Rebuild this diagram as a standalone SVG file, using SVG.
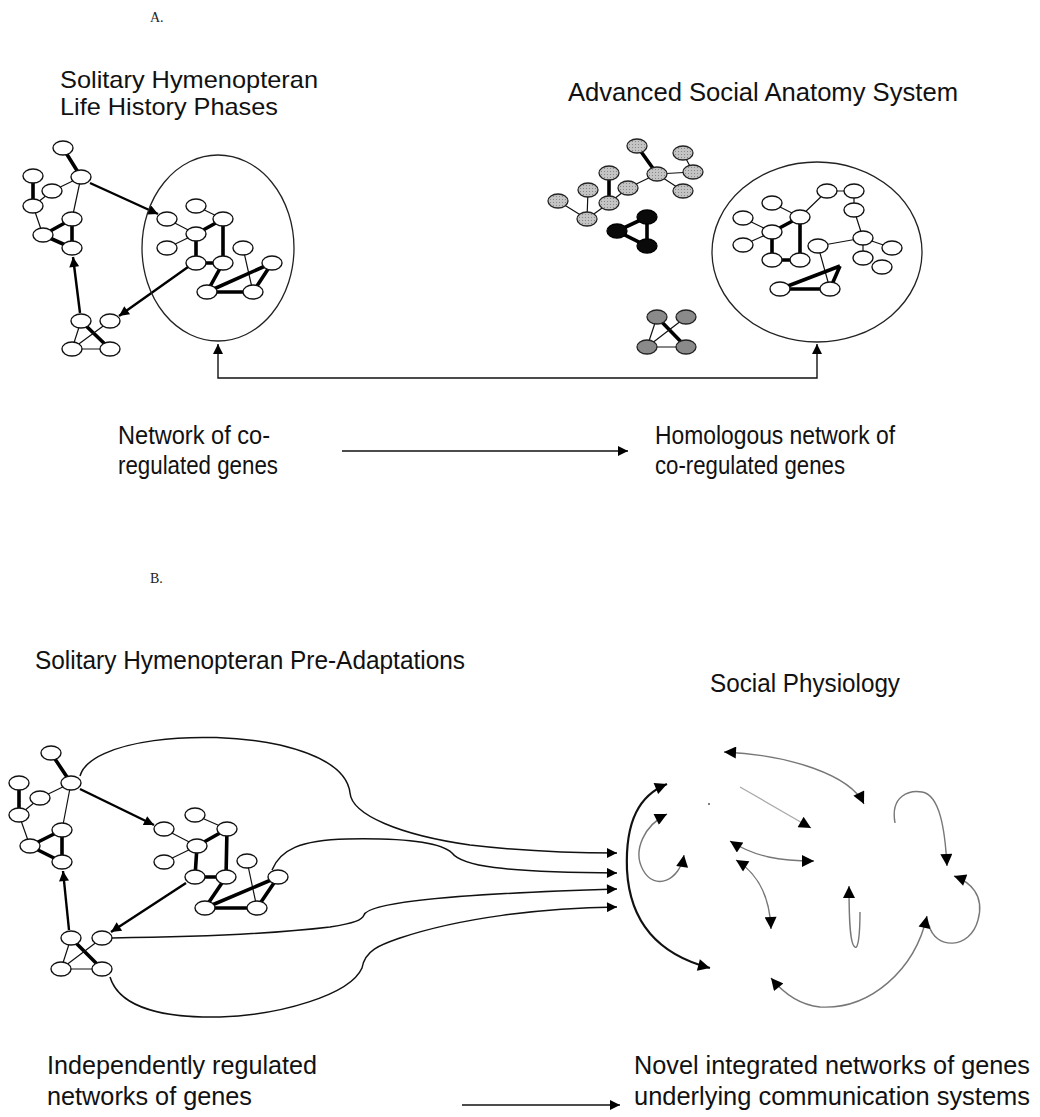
<svg xmlns="http://www.w3.org/2000/svg" width="1040" height="1117" viewBox="0 0 1040 1117">
<style>
.n{fill:#fff;stroke:#111;stroke-width:1.4}
.g{fill:url(#stip);stroke:#222;stroke-width:1.3}
.d{fill:#8a8a8a;stroke:#222;stroke-width:1.3}
.b{fill:#0a0a0a;stroke:#000;stroke-width:1.3}
.tn{stroke:#111;stroke-width:1.2;fill:none}
.tk{stroke:#000;stroke-width:3.6;fill:none}
.ar{stroke:#000;stroke-width:2.4;fill:none;marker-end:url(#ah)}
.cv{stroke:#111;stroke-width:1.5;fill:none;marker-end:url(#ah)}
.bg{fill:none;stroke:#222;stroke-width:1.3}
.fa{fill:none;stroke:#777;stroke-width:1.4;marker-end:url(#ah2)}
.fab{fill:none;stroke:#777;stroke-width:1.4;marker-start:url(#ah2);marker-end:url(#ah2)}
.t{font-family:"Liberation Sans",Arial,sans-serif;font-size:26px;fill:#111}
.s{font-family:"Liberation Serif","Times New Roman",serif;font-size:14px;fill:#222}
</style>
<defs>
<pattern id="stip" width="3" height="3" patternUnits="userSpaceOnUse"><rect width="3" height="3" fill="#c4c4c4"/><rect x="1" y="1" width="1" height="1" fill="#888"/></pattern>
<marker id="ah" viewBox="0 0 10 10" refX="10" refY="5" markerWidth="13" markerHeight="10" markerUnits="userSpaceOnUse" orient="auto-start-reverse"><path d="M0,0L10,5L0,10z" fill="#000"/></marker>
<marker id="ah2" viewBox="0 0 10 10" refX="10" refY="5" markerWidth="13" markerHeight="12" markerUnits="userSpaceOnUse" orient="auto-start-reverse"><path d="M0,0L10,5L0,10z" fill="#000"/></marker>
<ellipse id="nd" cx="0" cy="0" rx="10" ry="7"/>
</defs>

<text class="s" x="150" y="22">A.</text>
<text class="s" x="150" y="583">B.</text>

<text class="t" x="60" y="88" textLength="258" lengthAdjust="spacingAndGlyphs" style="font-size:24px">Solitary Hymenopteran</text>
<text class="t" x="60" y="115" textLength="218" lengthAdjust="spacingAndGlyphs" style="font-size:24px">Life History Phases</text>
<text class="t" x="568" y="101" textLength="390" lengthAdjust="spacingAndGlyphs">Advanced Social Anatomy System</text>
<text class="t" x="118" y="444" textLength="152" lengthAdjust="spacingAndGlyphs">Network of co-</text>
<text class="t" x="118" y="474" textLength="160" lengthAdjust="spacingAndGlyphs">regulated genes</text>
<text class="t" x="655" y="444" textLength="240" lengthAdjust="spacingAndGlyphs">Homologous network of</text>
<text class="t" x="655" y="474" textLength="190" lengthAdjust="spacingAndGlyphs">co-regulated genes</text>
<text class="t" x="35" y="669" textLength="430" lengthAdjust="spacingAndGlyphs">Solitary Hymenopteran Pre-Adaptations</text>
<text class="t" x="710" y="692" textLength="190" lengthAdjust="spacingAndGlyphs">Social Physiology</text>
<text class="t" x="47" y="1074" textLength="270" lengthAdjust="spacingAndGlyphs">Independently regulated</text>
<text class="t" x="47" y="1105" textLength="205" lengthAdjust="spacingAndGlyphs">networks of genes</text>
<text class="t" x="634" y="1074" textLength="396" lengthAdjust="spacingAndGlyphs">Novel integrated networks of genes</text>
<text class="t" x="634" y="1105" textLength="396" lengthAdjust="spacingAndGlyphs">underlying communication systems</text>

<g id="connectors">
<path d="M218,344 L218,378 L817,378 L817,344" fill="none" stroke="#111" stroke-width="1.4" marker-start="url(#ah)" marker-end="url(#ah)"/>
<path d="M342,451 L628,451" fill="none" stroke="#111" stroke-width="1.4" marker-end="url(#ah)"/>
<path d="M462,1105 L620,1105" fill="none" stroke="#111" stroke-width="1.4" marker-end="url(#ah)"/>
<path class="ar" d="M90,183 L158,214"/>
<path class="ar" d="M80,313 L73,257"/>
<path class="ar" d="M188,267 L119,316"/>
<path class="ar" d="M80,789 L154,825"/>
<path class="ar" d="M69,930 L63,871"/>
<path class="ar" d="M186,883 L111,932"/>
<path class="cv" d="M80,776 C90,740 200,728 280,745 C330,757 348,775 350,793 C352,815 400,835 470,845 C530,852 580,853 617,853"/>
<path class="cv" d="M272,870 C280,850 300,840 347,839 C400,838 440,842 452,853 C462,866 500,872 617,873"/>
<path class="cv" d="M112,938 C200,937 280,933 330,927 C355,923 362,920 364,915 C368,905 420,895 617,889"/>
<path class="cv" d="M110,977 C120,1010 170,1018 220,1017 C280,1015 350,995 362,968 C365,950 380,945 400,938 C460,918 540,908 617,907"/>
<path d="M710,968 C660,955 630,925 627,870 C625,820 640,795 667,784" fill="none" stroke="#111" stroke-width="2.2" marker-start="url(#ah2)" marker-end="url(#ah2)"/>
<path class="fab" d="M684,855 C680,880 655,892 643,870 C632,850 645,825 667,814"/>
<circle cx="709" cy="804" r="1" fill="#555"/>
<path d="M740,787 L811,828" fill="none" stroke="#aaa" stroke-width="1.3" marker-end="url(#ah2)"/>
<path class="fab" d="M724,752 C790,755 850,775 864,804"/>
<path class="fab" d="M730,841 C755,857 780,861 814,861"/>
<path class="fab" d="M736,860 C760,875 770,900 771,929"/>
<path class="fa" d="M860,912 C860,935 858,950 855,947 C850,945 849,920 849,886"/>
<path class="fa" d="M895,823 C890,795 910,790 922,792 C940,795 945,830 947,866"/>
<path class="fa" d="M929,925 C935,950 970,950 978,920 C985,895 970,882 954,876"/>
<path class="fab" d="M927,916 C915,970 870,1010 820,1007 C800,1005 785,995 771,978"/>
</g>

<g id="a-left-net">
<path class="tk" d="M63,148L81,177 M33,176L33,206 M43,235L72,219 M72,219L72,248 M43,235L72,248 M81,321L110,349"/>
<path class="tn" d="M81,177L52,191 M33,206L52,191 M81,177L72,219 M33,206L43,235 M81,321L72,349 M110,321L72,349 M72,349L110,349"/>
<use href="#nd" class="n" x="63" y="148"/><use href="#nd" class="n" x="81" y="177"/><use href="#nd" class="n" x="33" y="176"/><use href="#nd" class="n" x="52" y="191"/><use href="#nd" class="n" x="33" y="206"/><use href="#nd" class="n" x="72" y="219"/><use href="#nd" class="n" x="43" y="235"/><use href="#nd" class="n" x="72" y="248"/><use href="#nd" class="n" x="81" y="321"/><use href="#nd" class="n" x="110" y="321"/><use href="#nd" class="n" x="72" y="349"/><use href="#nd" class="n" x="110" y="349"/>
</g>
<g id="a-left-ellipse">
<ellipse class="bg" cx="218" cy="248" rx="76" ry="93"/>
<path class="tn" d="M167,219L196,234 M196,206L223,219 M167,248L196,234 M243,248L253,292"/>
<path class="tk" d="M196,234L223,219 M196,234L196,263 M223,219L223,263 M196,263L223,263 M223,263L207,292 M207,292L272,263 M272,263L253,292 M207,292L253,292"/>
<use href="#nd" class="n" x="167" y="219"/><use href="#nd" class="n" x="196" y="206"/><use href="#nd" class="n" x="223" y="219"/><use href="#nd" class="n" x="196" y="234"/><use href="#nd" class="n" x="167" y="248"/><use href="#nd" class="n" x="243" y="248"/><use href="#nd" class="n" x="196" y="263"/><use href="#nd" class="n" x="223" y="263"/><use href="#nd" class="n" x="272" y="263"/><use href="#nd" class="n" x="207" y="292"/><use href="#nd" class="n" x="253" y="292"/>
</g>
<g id="a-gray-cluster">
<path class="tk" d="M637,146L657,174 M609,173L609,203"/>
<path class="tn" d="M657,174L693,172 M693,172L683,153 M657,174L683,191 M657,174L628,188 M628,188L609,203 M588,190L587,219 M558,201L587,219 M587,219L609,203"/>
<use href="#nd" class="g" x="637" y="146"/><use href="#nd" class="g" x="683" y="153"/><use href="#nd" class="g" x="609" y="173"/><use href="#nd" class="g" x="657" y="174"/><use href="#nd" class="g" x="693" y="172"/><use href="#nd" class="g" x="588" y="190"/><use href="#nd" class="g" x="628" y="188"/><use href="#nd" class="g" x="683" y="191"/><use href="#nd" class="g" x="558" y="201"/><use href="#nd" class="g" x="609" y="203"/><use href="#nd" class="g" x="587" y="219"/>
</g>
<g id="a-black-cluster">
<path class="tk" d="M647,217L617,231L647,246Z"/>
<use href="#nd" class="b" x="647" y="217"/><use href="#nd" class="b" x="617" y="231"/><use href="#nd" class="b" x="647" y="246"/>
</g>
<g id="a-dark-cluster">
<path class="tk" d="M657,317L686,347"/>
<path class="tn" d="M657,317L647,347 M686,317L647,347 M647,347L686,347"/>
<use href="#nd" class="d" x="657" y="317"/><use href="#nd" class="d" x="686" y="317"/><use href="#nd" class="d" x="647" y="347"/><use href="#nd" class="d" x="686" y="347"/>
</g>
<g id="a-right-ellipse">
<ellipse class="bg" cx="817" cy="252" rx="105" ry="90"/>
<path class="tn" d="M772,203L800,217 M827,191L800,217 M827,191L854,191 M854,191L854,210 M854,210L863,238 M818,246L863,238 M863,238L892,248 M863,238L863,258 M743,218L772,232 M743,245L772,232 M818,246L830,289"/>
<path class="tk" d="M772,232L800,217 M800,217L800,260 M772,232L772,260 M772,260L800,260 M780,289L840,266 M840,266L830,289 M780,289L830,289"/>
<use href="#nd" class="n" x="827" y="191"/><use href="#nd" class="n" x="854" y="191"/><use href="#nd" class="n" x="772" y="203"/><use href="#nd" class="n" x="800" y="217"/><use href="#nd" class="n" x="743" y="218"/><use href="#nd" class="n" x="854" y="210"/><use href="#nd" class="n" x="772" y="232"/><use href="#nd" class="n" x="743" y="245"/><use href="#nd" class="n" x="863" y="238"/><use href="#nd" class="n" x="818" y="246"/><use href="#nd" class="n" x="892" y="248"/><use href="#nd" class="n" x="772" y="260"/><use href="#nd" class="n" x="800" y="260"/><use href="#nd" class="n" x="863" y="258"/><use href="#nd" class="n" x="882" y="267"/><use href="#nd" class="n" x="780" y="289"/><use href="#nd" class="n" x="830" y="289"/>
</g>
<g id="b-net-1">
<path class="tk" d="M51,753L71,783 M19,783L19,815 M30,846L62,830 M62,830L62,862 M30,846L62,862 M71,938L102,969"/>
<path class="tn" d="M71,783L40,798 M19,815L40,798 M71,783L62,830 M19,815L30,846 M71,938L61,969 M102,938L61,969 M61,969L102,969"/>
<use href="#nd" class="n" x="51" y="753"/><use href="#nd" class="n" x="71" y="783"/><use href="#nd" class="n" x="19" y="783"/><use href="#nd" class="n" x="40" y="798"/><use href="#nd" class="n" x="19" y="815"/><use href="#nd" class="n" x="62" y="830"/><use href="#nd" class="n" x="30" y="846"/><use href="#nd" class="n" x="62" y="862"/><use href="#nd" class="n" x="71" y="938"/><use href="#nd" class="n" x="102" y="938"/><use href="#nd" class="n" x="61" y="969"/><use href="#nd" class="n" x="102" y="969"/>
</g>
<g id="b-net-2">
<path class="tn" d="M164,829L197,846 M195,815L227,829 M164,862L197,846 M247,861L257,908"/>
<path class="tk" d="M197,846L227,829 M197,846L195,877 M227,829L226,877 M195,877L226,877 M226,877L205,908 M205,908L278,877 M278,877L257,908 M205,908L257,908"/>
<use href="#nd" class="n" x="164" y="829"/><use href="#nd" class="n" x="195" y="815"/><use href="#nd" class="n" x="227" y="829"/><use href="#nd" class="n" x="197" y="846"/><use href="#nd" class="n" x="164" y="862"/><use href="#nd" class="n" x="247" y="861"/><use href="#nd" class="n" x="195" y="877"/><use href="#nd" class="n" x="226" y="877"/><use href="#nd" class="n" x="278" y="877"/><use href="#nd" class="n" x="205" y="908"/><use href="#nd" class="n" x="257" y="908"/>
</g>
</svg>
